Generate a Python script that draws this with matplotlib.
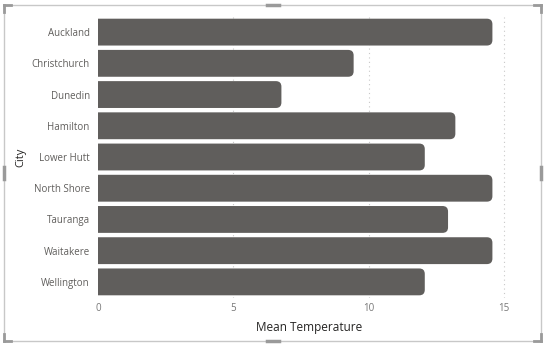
import matplotlib
matplotlib.use("Agg")
from matplotlib import pyplot as plt
from matplotlib.patches import Rectangle, PathPatch
from matplotlib.path import Path

cities = ["Auckland", "Christchurch", "Dunedin", "Hamilton", "Lower Hutt",
          "North Shore", "Tauranga", "Waitakere", "Wellington"]
mean_temp = [14.58, 9.45, 6.78, 13.21, 12.08, 14.58, 12.94, 14.58, 12.08]
x_ticks = [0, 5, 10, 15]

bar_color = "#605E5C"
W, H = 545, 346

plt.rcParams["font.family"] = ["Open Sans", "DejaVu Sans"]
fig = plt.figure(figsize=(W / 100, H / 100), dpi=100)

# axes placed in pixel units
left, right, top, bottom = 98, 520, 16.5, 297.5
ax = fig.add_axes([left / W, 1 - bottom / H, (right - left) / W, (bottom - top) / H])

ypos = list(range(len(cities)))
bars = ax.barh(ypos, mean_temp, height=0.86, color=bar_color)


def rounded_end(x0, y0, w, h, rx, ry):
    # bar with square left end and rounded right corners
    x1, y1 = x0 + w, y0 + h
    verts = [(x0, y0), (x1 - rx, y0), (x1, y0), (x1, y0 + ry),
             (x1, y1 - ry), (x1, y1), (x1 - rx, y1), (x0, y1), (x0, y0)]
    codes = [Path.MOVETO, Path.LINETO, Path.CURVE3, Path.CURVE3,
             Path.LINETO, Path.CURVE3, Path.CURVE3, Path.LINETO, Path.CLOSEPOLY]
    return Path(verts, codes)


px_x = (right - left) / 15.6
px_y = (bottom - top) / len(cities)
for b in bars:
    b.set_visible(False)
    p = rounded_end(b.get_x(), b.get_y(), b.get_width(), b.get_height(),
                    5.5 / px_x, 5.5 / px_y)
    ax.add_patch(PathPatch(p, fc=bar_color, ec="none", zorder=3))

ax.set_xlim(0, 15.6)
ax.set_ylim(len(cities) - 0.5, -0.5)
ax.set_yticks(ypos)
ax.set_yticklabels(cities, color="#605E5C", fontsize=7)
ax.set_xticks(x_ticks)
ax.set_xticklabels([str(t) for t in x_ticks], color="#777777", fontsize=7)
ax.tick_params(length=0, pad=4)
ax.tick_params(axis="y", pad=6)

for t in x_ticks[1:]:
    ax.axvline(t, color="#C8C8C8", lw=0.8, ls=(0, (1, 3)), zorder=1)

for s in ax.spines.values():
    s.set_visible(False)

ax.set_xlabel("Mean Temperature", fontsize=8.5, color="#252423", labelpad=5)
ax.set_ylabel("City", fontsize=8, color="#252423", labelpad=4)

# selection frame around the visual
frame = Rectangle((4 / W, 5 / H), 537 / W, 336 / H, transform=fig.transFigure,
                  fill=False, ec="#C8C8C8", lw=1)
fig.add_artist(frame)
hc = "#9A9A9A"
for (fx, fy) in [(4, 5), (541, 5), (4, 341), (541, 341)]:
    dx = 1 if fx < 100 else -1
    dy = 1 if fy < 100 else -1
    fig.add_artist(plt.Line2D([fx / W, (fx + 7 * dx) / W], [1 - fy / H, 1 - fy / H],
                              transform=fig.transFigure, color=hc, lw=2))
    fig.add_artist(plt.Line2D([fx / W, fx / W], [1 - fy / H, 1 - (fy + 7 * dy) / H],
                              transform=fig.transFigure, color=hc, lw=2))
for (fx, fy, horiz) in [(272.5, 5, True), (272.5, 341, True), (4, 173, False), (541, 173, False)]:
    if horiz:
        fig.add_artist(plt.Line2D([(fx - 6) / W, (fx + 6) / W], [1 - fy / H] * 2,
                                  transform=fig.transFigure, color=hc, lw=2.5))
    else:
        fig.add_artist(plt.Line2D([fx / W] * 2, [1 - (fy - 6) / H, 1 - (fy + 6) / H],
                                  transform=fig.transFigure, color=hc, lw=2.5))

fig.savefig("out.png", dpi=100)
